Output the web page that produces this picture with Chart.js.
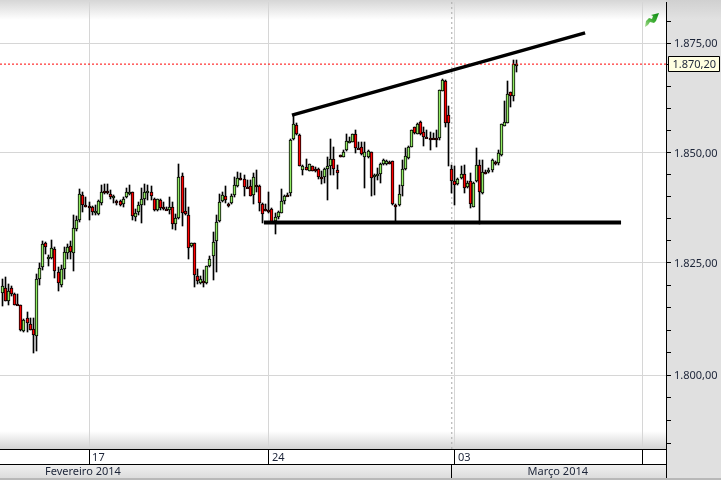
<!DOCTYPE html>
<html lang="pt">
<head>
   <meta charset="UTF-8">
   <title>Gráfico de candles</title>
   <script src="https://cdn.jsdelivr.net/npm/chart.js@4/dist/chart.umd.min.js"></script>
   <style>
      html, body { margin: 0; padding: 0; background: #fff; }
      canvas { display: block; }
   </style>
</head>
<body>
   <canvas id="myChart" width="721" height="480"></canvas>
   <script>
      // candles
      var opens = [1818.3,1819.4,1816.5,1819.4,1818.1,1815.8,1815.5,1809.7,1812.6,1811.3,1810.2,1808.6,1821.5,1824.0,1829.5,1826.3,1826.1,1828.1,1822.9,1820.0,1823.6,1827.3,1828.8,1827.2,1832.7,1834.6,1840.4,1838.1,1837.9,1837.5,1836.3,1836.1,1838.5,1841.3,1841.3,1840.6,1840.0,1839.0,1839.0,1838.4,1839.9,1841.0,1840.9,1835.3,1836.5,1838.1,1839.4,1840.9,1840.9,1839.5,1837.0,1839.3,1837.6,1837.2,1837.0,1837.7,1833.7,1835.1,1844.7,1836.6,1835.9,1828.8,1829.4,1822.0,1820.6,1820.9,1820.5,1824.3,1826.5,1830.0,1834.4,1839.0,1840.2,1838.3,1838.5,1840.3,1842.3,
         1844.2,1843.9,1842.2,1842.3,1840.3,1842.6,1842.3,1838.4,1837.1,1836.9,1837.1,1834.5,1835.3,1836.2,1839.0,1840.4,1840.7,1853.0,1856.2,1854.0,1846.1,1846.7,1845.8,1846.8,1846.2,1846.2,1844.3,1844.3,1846.3,1847.0,1848.6,1846.0,1849.5,1849.0,1850.5,1852.4,1852.4,1854.1,1851.1,1851.3,1849.0,1849.0,1850.2,1844.3,1844.8,1845.0,1847.4,1847.4,1847.8,1848.0,
         1838.0,1838.0,1842.4,1846.3,1848.7,1851.3,1855.7,1854.3,1857.0,1854.6,1853.4,1853.3,1853.3,1853.2,1853.2,1864.1,1866.4,1858.6,1846.2,1843.4,1842.8,1844.1,1845.0,1842.2,1843.4,1837.7,1843.4,1847.2,1840.7,1845.6,1846.0,1845.9,1847.9,1847.5,1849.4,1856.0,1856.7,1863.7,1862.9,1870.1];
      var highs = [1821.3,1821.8,1820.2,1819.8,1818.3,1818.1,1815.6,1812.4,1814.1,1812.6,1812.6,1822.6,1824.9,1829.9,1829.7,1826.9,1830.2,1828.5,1824.0,1824.6,1828.5,1829.3,1829.9,1835.7,1835.6,1841.6,1841.0,1839.9,1838.8,1837.8,1838.0,1839.1,1842.7,1842.9,1842.8,1841.4,1840.3,1839.3,1839.1,1839.9,1841.8,1842.5,1840.9,1837.2,1838.7,1842.0,1842.8,1842.5,1842.3,1839.7,1839.5,1839.5,1838.8,1837.5,1839.9,1838.8,1836.1,1847.3,1845.3,1841.9,1837.6,1829.6,1829.6,1823.6,1822.0,1823.4,1824.3,1826.6,1831.9,1835.9,1840.6,1841.0,1842.4,1838.5,1840.6,1844.3,1845.5,
         1845.2,1844.9,1843.7,1843.7,1845.4,1846.1,1842.6,1838.6,1838.3,1840.9,1837.3,1836.2,1836.8,1841.6,1840.3,1840.7,1853.0,1858.5,1856.7,1854.1,1847.1,1848.4,1847.4,1846.9,1846.7,1846.4,1845.8,1846.4,1849.0,1853.0,1851.3,1847.1,1849.5,1850.5,1854.1,1853.5,1854.3,1855.0,1852.4,1852.4,1852.4,1850.5,1850.2,1845.1,1846.4,1847.5,1848.4,1848.3,1848.1,1848.0,
         1838.3,1842.5,1848.3,1851.1,1851.5,1855.2,1855.8,1856.7,1857.1,1855.8,1855.1,1854.7,1854.5,1855.1,1864.3,1866.7,1866.6,1860.7,1847.2,1847.0,1844.1,1846.8,1847.2,1843.4,1845.3,1843.2,1850.9,1848.3,1848.3,1845.9,1846.4,1848.4,1848.1,1850.6,1856.4,1861.7,1866.4,1863.9,1871.1,1871.1];
      var lows = [1815.3,1816.4,1815.5,1817.5,1815.5,1815.5,1809.7,1809.6,1809.6,1810.0,1804.9,1805.4,1820.0,1823.4,1827.0,1824.3,1825.9,1821.7,1818.7,1819.6,1821.3,1825.9,1825.9,1823.2,1832.2,1834.2,1836.5,1837.6,1834.6,1835.7,1835.9,1835.7,1838.0,1840.6,1840.6,1839.5,1838.5,1838.0,1837.8,1837.6,1839.7,1840.3,1834.6,1834.4,1835.7,1834.0,1838.0,1839.1,1839.3,1836.7,1836.7,1837.0,1837.0,1836.9,1836.0,1832.7,1832.5,1835.0,1833.4,1835.7,1826.0,1828.5,1819.6,1820.2,1820.2,1819.6,1820.3,1824.0,1821.2,1822.9,1834.2,1838.7,1838.6,1837.5,1838.2,1839.9,1842.2,
         1843.7,1840.1,1841.8,1840.0,1838.3,1841.1,1836.6,1833.9,1836.8,1836.2,1834.3,1831.5,1834.8,1836.2,1838.4,1840.0,1840.1,1852.8,1854.0,1846.8,1844.9,1846.0,1845.7,1845.8,1845.6,1843.9,1842.8,1843.0,1839.2,1844.9,1844.9,1841.7,1848.9,1848.9,1850.4,1852.2,1852.3,1849.9,1850.9,1849.4,1842.0,1848.8,1840.0,1840.3,1843.7,1843.0,1847.1,1847.1,1847.4,1838.1,
         1834.3,1837.9,1840.2,1846.0,1848.4,1851.2,1854.3,1854.2,1854.0,1851.5,1853.2,1850.5,1853.0,1851.2,1852.8,1864.0,1855.8,1846.8,1840.7,1838.0,1842.6,1843.9,1840.7,1842.0,1837.3,1837.6,1843.2,1833.7,1840.6,1845.1,1845.4,1845.6,1847.2,1847.2,1849.2,1856.0,1856.6,1860.4,1861.7,1868.3];
      var closes = [1819.8,1816.5,1818.8,1818.1,1815.6,1815.7,1809.9,1812.2,1811.5,1810.1,1808.8,1821.3,1823.8,1829.3,1828.7,1826.4,1828.4,1823.1,1820.6,1823.6,1827.5,1828.7,1827.4,1832.9,1834.7,1840.6,1838.0,1838.0,1837.5,1836.5,1836.6,1838.9,1841.1,1841.2,1840.8,1839.9,1840.0,1838.9,1838.1,1839.4,1840.9,1841.1,1835.6,1836.3,1838.0,1839.5,1841.0,1841.2,1840.1,1837.0,1839.4,1837.4,1837.2,1837.1,1837.7,1833.7,1835.1,1844.5,1836.3,1836.1,1828.4,1829.4,1822.2,1821.0,1821.3,1820.4,1824.3,1825.9,1829.7,1834.3,1838.8,1840.4,1839.2,1838.2,1840.2,1842.5,1844.2,
         1844.0,1842.2,1842.1,1840.2,1844.3,1842.5,1838.6,1836.1,1837.0,1836.8,1834.3,1835.4,1836.4,1839.0,1840.1,1840.3,1852.8,1856.4,1854.1,1847.0,1846.8,1846.1,1847.3,1845.8,1846.1,1844.3,1844.0,1846.2,1846.8,1848.4,1846.3,1845.2,1848.9,1850.2,1852.6,1852.6,1854.3,1851.1,1851.0,1849.7,1850.1,1850.3,1844.1,1844.9,1845.0,1847.4,1848.3,1848.0,1847.7,1838.3,
         1837.9,1840.5,1846.2,1849.2,1851.2,1855.1,1854.5,1856.5,1854.2,1853.6,1853.3,1853.2,1853.2,1853.1,1864.3,1866.6,1856.6,1856.6,1843.5,1842.6,1843.9,1845.0,1842.0,1843.0,1838.2,1843.0,1847.1,1840.9,1845.6,1845.5,1846.1,1848.2,1847.4,1849.8,1856.4,1857.0,1863.4,1862.9,1870.2,1870.2];

      // axis ticks
      var priceTicks = [1785,1790,1795,1800,1805,1810,1815,1820,1825,1830,1835,1840,1845,1850,1855,1860,1865,1870,1875,1880];
      var priceLabels = {1800: '1.800,00', 1825: '1.825,00', 1850: '1.850,00', 1875: '1.875,00'};
      var weekSlots = [28, 86, 146, 206.4];
      var weekLabels = ['17', '24', '03', ''];
      var monthSlots = [26, 145, 179.2];
      var monthLabels = ['Fevereiro 2014', '', 'Março 2014'];

      // drawn lines: [slot, price]
      var resistance = [[93.45, 1858.5], [188, 1877.4]];
      var support = [[84.4, 1834.1], [199.6, 1834.1]];
      var lastPrice = 1870.2;
      var lastLabel = '1.870,20';
      var cursorSlot = 145;

      var slotMin = -0.74, slotMax = 214.1;
      var priceMin = 1783.7, priceMax = 1884.55; // eixo é logarítmico
      var axisFont = { family: '"Noto Sans"', size: 11 };
      var textColor = '#1c2438';

      function xy(pairs) {
         return pairs.map(function (p) { return { x: p[0], y: p[1] }; });
      }

      // fundo, faixas de data e painel direito
      var panels = {
         id: 'panels',
         beforeDraw: function (chart) {
            var g = chart.ctx, a = chart.chartArea;
            g.save();
            g.fillStyle = '#fff';
            g.fillRect(0, 0, 721, 480);
            var top = g.createLinearGradient(0, 0, 0, 20);
            top.addColorStop(0, '#d6d6d6');
            top.addColorStop(1, '#ffffff');
            g.fillStyle = top;
            g.fillRect(0, 0, a.right, 20);
            var bot = g.createLinearGradient(0, a.bottom - 18, 0, a.bottom);
            bot.addColorStop(0, '#ffffff');
            bot.addColorStop(1, '#d2d2d2');
            g.fillStyle = bot;
            g.fillRect(0, a.bottom - 18, a.right, 18);
            var right = g.createLinearGradient(0, 0, 0, 20);
            right.addColorStop(0, '#d0d0d0');
            right.addColorStop(1, '#e2e2e2');
            g.fillStyle = right;
            g.fillRect(a.right, 0, 721 - a.right, 20);
            g.fillStyle = '#e0e0e0';
            g.fillRect(a.right, 20, 721 - a.right, 460);
            // linha dos meses
            var m = g.createLinearGradient(0, 465, 0, 478);
            m.addColorStop(0, '#f0f0f0');
            m.addColorStop(1, '#dcdcdc');
            g.fillStyle = m;
            g.fillRect(0, 465, a.right, 14);
            g.fillStyle = '#b8b8b8';
            g.fillRect(0, 478, 721, 2);
            g.fillStyle = '#000';
            g.fillRect(0, 449, a.right, 1);
            g.fillRect(0, 464, a.right, 1);
            g.fillRect(a.right, 2, 1, 476);
            g.restore();
         }
      };

      // alinha os candles no pixel, senão ficam borrados
      var snapBars = {
         id: 'snapBars',
         afterDatasetsUpdate: function (chart) {
            chart.data.datasets.forEach(function (ds, i) {
               if (!ds.snapHeight) return;
               chart.getDatasetMeta(i).data.forEach(function (el) {
                  var t = Math.round(Math.min(el.y, el.base));
                  var b = Math.round(Math.max(el.y, el.base));
                  if (b - t < ds.snapHeight) b = t + ds.snapHeight;
                  el.x = Math.floor(el.x) + 0.5;
                  el.y = t;
                  el.base = b;
                  el.height = b - t;
               });
            });
         }
      };

      // etiqueta do último preço e ícone
      var priceTag = {
         id: 'priceTag',
         afterDraw: function (chart) {
            var g = chart.ctx;
            var y = Math.round(chart.scales.y.getPixelForValue(lastPrice));
            g.save();
            g.fillStyle = '#ffffe1';
            g.strokeStyle = '#000';
            g.lineWidth = 1;
            g.beginPath();
            g.rect(668.5, y - 7.5, 51, 15);
            g.fill();
            g.stroke();
            g.fillStyle = textColor;
            g.font = '11px "Noto Sans"';
            g.textBaseline = 'middle';
            g.fillText(lastLabel, 672.5, y + 0.5);
            var grad = g.createLinearGradient(645, 27, 659, 13);
            grad.addColorStop(0, '#a8dc90');
            grad.addColorStop(0.5, '#3fae35');
            grad.addColorStop(1, '#0c8a14');
            g.fillStyle = grad;
            g.beginPath();
            g.moveTo(645, 27);
            g.lineTo(646, 21);
            g.lineTo(649, 18);
            g.lineTo(652, 19);
            g.lineTo(653, 16);
            g.lineTo(651, 15);
            g.lineTo(659, 13);
            g.lineTo(656, 21);
            g.lineTo(654, 23);
            g.lineTo(650, 22);
            g.lineTo(648, 25);
            g.closePath();
            g.fill();
            g.restore();
         }
      };

      var ctx = document.getElementById('myChart').getContext('2d');
      var myChart = new Chart(ctx, {
         type: 'bar',
         plugins: [panels, snapBars, priceTag],
         data: {
            datasets: [
               {
                  type: 'line', order: 1,
                  data: xy(resistance),
                  borderColor: '#000', borderWidth: 3.5, pointRadius: 0, borderCapStyle: 'butt'
               },
               {
                  type: 'line', order: 1,
                  data: xy(support),
                  borderColor: '#000', borderWidth: 4, pointRadius: 0
               },
               {
                  type: 'line', order: 2,
                  data: [{ x: slotMin, y: lastPrice }, { x: slotMax, y: lastPrice }],
                  borderColor: '#ff0000', borderWidth: 1, borderDash: [2, 2], pointRadius: 0
               },
               {
                  type: 'line', order: 5,
                  data: [{ x: cursorSlot, y: priceMin }, { x: cursorSlot, y: priceMax }],
                  borderColor: '#a8a8a8', borderWidth: 1, borderDash: [2, 3], pointRadius: 0
               },
               {
                  order: 3, grouped: false, snapHeight: 2,
                  data: closes.map(function (c, i) { return { x: i, y: [opens[i], c] }; }),
                  barThickness: 3,
                  borderWidth: 1,
                  borderSkipped: false,
                  borderColor: '#000',
                  backgroundColor: closes.map(function (c, i) { return c >= opens[i] ? '#90ea62' : '#ff0000'; })
               },
               {
                  order: 4, grouped: false, snapHeight: 1,
                  data: closes.map(function (c, i) { return { x: i, y: [lows[i], highs[i]] }; }),
                  barThickness: 1,
                  backgroundColor: '#000'
               }
            ]
         },
         options: {
            responsive: false,
            animation: false,
            layout: { padding: { top: 2, left: 0, right: 0, bottom: 0 } },
            plugins: { legend: { display: false }, tooltip: { enabled: false } },
            scales: {
               x: {
                  type: 'linear', position: 'bottom', weight: 0,
                  min: slotMin, max: slotMax,
                  offset: false,
                  afterBuildTicks: function (s) { s.ticks = weekSlots.map(function (v) { return { value: v }; }); },
                  afterFit: function (s) { s.height = 15; s.paddingLeft = 0; s.paddingRight = 0; },
                  border: { display: false },
                  grid: { color: '#d6d6d6', tickColor: '#000', tickLength: 15, offset: false },
                  ticks: {
                     autoSkip: false, maxRotation: 0, align: 'start', padding: -13, labelOffset: 3,
                     font: axisFont, color: textColor,
                     callback: function (v, i) { return weekLabels[i]; }
                  }
               },
               x2: {
                  type: 'linear', position: 'bottom', weight: 1,
                  min: slotMin, max: slotMax,
                  offset: false,
                  afterBuildTicks: function (s) { s.ticks = monthSlots.map(function (v) { return { value: v }; }); },
                  afterFit: function (s) { s.height = 16; s.paddingLeft = 0; s.paddingRight = 0; },
                  border: { display: false },
                  grid: {
                     drawOnChartArea: false, tickLength: 14, offset: false,
                     tickColor: function (c) { return monthLabels[c.index] === '' ? '#000' : 'rgba(0,0,0,0)'; }
                  },
                  ticks: {
                     autoSkip: false, maxRotation: 0, padding: -13,
                     font: axisFont, color: textColor,
                     callback: function (v, i) { return monthLabels[i]; }
                  }
               },
               y: {
                  type: 'logarithmic', position: 'right',
                  min: priceMin, max: priceMax,
                  afterBuildTicks: function (s) { s.ticks = priceTicks.map(function (v) { return { value: v }; }); },
                  afterFit: function (s) { s.width = 55; s.paddingTop = 0; s.paddingBottom = 0; },
                  border: { display: false },
                  grid: {
                     tickLength: 5, tickColor: '#000',
                     color: function (c) { return priceLabels[c.tick.value] ? '#d6d6d6' : 'rgba(0,0,0,0)'; }
                  },
                  ticks: {
                     autoSkip: false, padding: 3, labelOffset: 1,
                     font: axisFont, color: textColor,
                     callback: function (v) { return priceLabels[v] || ''; }
                  }
               }
            }
         }
      });
   </script>
</body>
</html>
